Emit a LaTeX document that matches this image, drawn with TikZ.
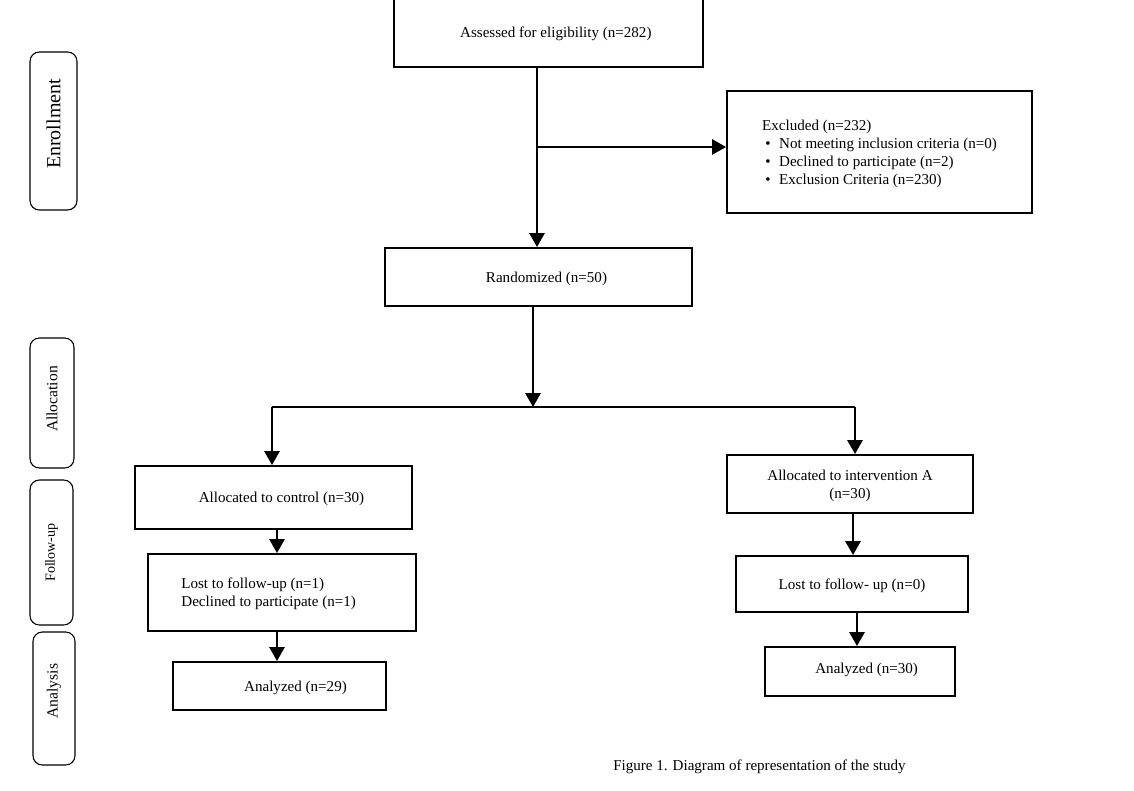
\documentclass[tikz,border=0pt]{standalone}
\usepackage{fontspec}
\setmainfont{Liberation Serif}
\usetikzlibrary{arrows.meta}
\newcommand\blt{\makebox[12.75pt][l]{\hspace{2.5pt}\textbullet}}
\begin{document}
\begin{tikzpicture}[x=0.75pt,y=-0.75pt,
  box/.style={draw, line width=1.5pt, inner sep=0pt, align=center, text depth=0pt, font=\fontsize{11.3}{13.4}\selectfont},
  side/.style={draw, line width=0.8pt, rounded corners=7pt, inner sep=0pt, rotate=90, font=\fontsize{11.7}{13.4}\selectfont},
  arr/.style={line width=1.5pt, -{Triangle[width=11.5pt,length=10.5pt]}},
  thinline/.style={line width=0.8pt}]
\useasboundingbox (0,0) rectangle (1134,790);
% main boxes
\node[box, minimum width=231.75pt, minimum height=51.75pt] (assess) at (548.5,32.5) {\hspace*{11pt}Assessed for eligibility (n=282)};
\node[box, align=left, minimum width=228.75pt, minimum height=91.5pt] (excl) at (879.5,152)
  {Excluded (n=232)\\ \blt Not meeting inclusion criteria (n=0)\\ \blt Declined to participate (n=2)\\ \blt Exclusion Criteria (n=230)};
\node[box, minimum width=230.25pt, minimum height=43.5pt] (rand) at (538.5,277) {\hspace*{12pt}Randomized (n=50)};
\node[box, minimum width=207.75pt, minimum height=47.25pt] (ctrl) at (273.5,497.5) {\hspace*{12pt}Allocated to control (n=30)};
\node[box, minimum width=184.5pt, minimum height=43.5pt] (intv) at (850,484) {Allocated to intervention A\\(n=30)};
\node[box, align=left, minimum width=201pt, minimum height=57.75pt] (lost1) at (282,592.5)
  {Lost to follow-up (n=1)\\Declined to participate (n=1)\rule{20pt}{0pt}};
\node[box, minimum width=159.75pt, minimum height=36pt] (an1) at (279.5,686) {\hspace*{24pt}Analyzed (n=29)};
\node[box, minimum width=174pt, minimum height=42pt] (lost2) at (852,584) {Lost to follow- up (n=0)};
\node[box, minimum width=142.5pt, minimum height=36.75pt] (an2) at (860,671.5) {\raisebox{5pt}{\hspace*{10pt}Analyzed (n=30)}};
% side labels
\node[side, minimum width=118.5pt, minimum height=35.25pt, font=\fontsize{15}{17}\selectfont] (senr) at (53.5,131) {\hspace*{10.5pt}Enrollment};
\node[side, minimum width=97.5pt, minimum height=33pt] (salloc) at (52,403) {\hspace*{6pt}Allocation};
\node[side, minimum width=108.75pt, minimum height=32.25pt, font=\fontsize{10.5}{12}\selectfont] (sfol) at (51.5,552.5) {Follow-up};
\node[side, minimum width=99.75pt, minimum height=31.5pt] (sana) at (54,698.5) {\hspace*{11pt}Analysis};
% caption
\node[font=\fontsize{11.3}{13.4}\selectfont, anchor=base west, inner sep=0pt] (cap) at (613,770) {Figure 1. Diagram of representation of the study};
% connectors
\coordinate (va) at (537,147);
\draw[arr] (assess.south -| va) -- (rand.north -| va);
\draw[arr] (va) -- (va -| excl.west);
\coordinate (split) at (533,407);
\coordinate (sl) at (272,407);
\coordinate (sr) at (855,407);
\draw[arr] (rand.south -| split) -- (split);
\draw[thinline] (sl) -- (sr);
\draw[arr] (sl) -- (sl |- ctrl.north);
\draw[arr] (sr) -- (sr |- intv.north);
\coordinate (cx) at (277,0);
\draw[arr] (ctrl.south -| cx) -- (lost1.north -| cx);
\draw[arr] (lost1.south -| cx) -- (an1.north -| cx);
\coordinate (rx1) at (853,0);
\coordinate (rx2) at (857,0);
\draw[arr] (intv.south -| rx1) -- (lost2.north -| rx1);
\draw[arr] (lost2.south -| rx2) -- (an2.north -| rx2);
\end{tikzpicture}
\end{document}
